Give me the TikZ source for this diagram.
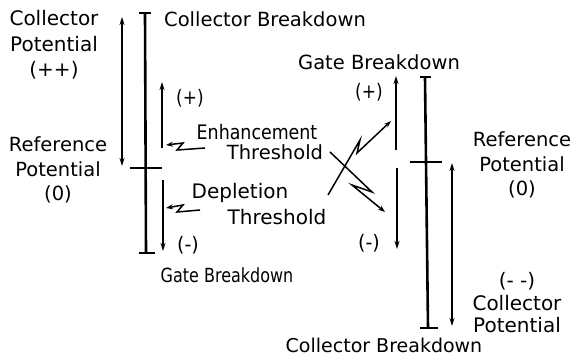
\documentclass[tikz,border=0pt]{standalone}
\usepackage{fontspec}
\setmainfont{DejaVu Sans}
\usetikzlibrary{arrows.meta}
\tikzset{
  lbl/.style 2 args={font=\fontsize{#1}{#2}\selectfont, inner sep=0pt, align=center},
  narrowlbl/.style 2 args={font=\fontsize{#1}{#1}\selectfont\addfontfeature{FakeStretch=#2}, inner sep=0pt, align=center},
  barline/.style={line width=2.6pt, line cap=butt},
  tickline/.style={line width=2.4pt, line cap=butt},
  ptr/.style={line width=1.5pt, -{Stealth[length=8pt,width=5pt]}},
  dblptr/.style={line width=1.5pt, {Stealth[length=8pt,width=5pt]}-{Stealth[length=8pt,width=5pt]}},
  zigptr/.style={line width=1.5pt, line join=miter, -{Stealth[length=7pt,width=5pt]}},
}
\begin{document}
\begin{tikzpicture}[x=1pt,y=-1pt]
\useasboundingbox (0,0) rectangle (576,362);

% ---------- left diagram ----------
\coordinate (LT) at (145,13);
\coordinate (LB) at (146,253);
\draw[barline] (LT) -- (LB);
\coordinate (LTa) at (139,13); \coordinate (LTb) at (151,13);
\draw[tickline] (LTa) -- (LTb);
\coordinate (LBa) at (139,253); \coordinate (LBb) at (155,253);
\draw[tickline] (LBa) -- (LBb);
\coordinate (LRa) at (130,168); \coordinate (LRb) at (162,168);
\draw[tickline] (LRa) -- (LRb);

\coordinate (LCa) at (122,166); \coordinate (LCb) at (122,17);
\draw[dblptr] (LCa) -- (LCb);
\coordinate (LPa) at (162,148); \coordinate (LPb) at (162,82);
\draw[ptr] (LPa) -- (LPb);
\coordinate (LMa) at (163,180); \coordinate (LMb) at (163,251);
\draw[ptr] (LMa) -- (LMb);

% labels left
\node[lbl={19.5}{24}] (topbrk) at (265,19) {Collector Breakdown};
\node[lbl={20}{25.5}] (lcoll) at (54,45) {Collector\\Potential\\(++)};
\node[lbl={19.5}{24.5}] (lref) at (58,170) {Reference\\Potential\\(0)};
\node[narrowlbl={20}{0.85}] (lplus) at (190,98) {(+)};
\node[narrowlbl={20}{0.95}] (lminus) at (188,245) {(-)};
\node[narrowlbl={20}{0.87}] (enh) at (257,132) {Enhancement};
\node[lbl={19.5}{20}] (enhth) at (275,152) {Threshold};
\node[lbl={20}{20}] (dep) at (240,193) {Depletion};
\node[lbl={20}{20}] (depth) at (277,217) {Threshold};
\node[narrowlbl={19.5}{0.82}] (lgate) at (227,275) {Gate Breakdown};

% left zigzags
\coordinate (EZs) at (205,148); \coordinate (EZe) at (166,145);
\draw[zigptr] (EZs) -- ++(-28,2) -- ++(6,-7) -- (EZe);
\coordinate (DZs) at (200,210); \coordinate (DZe) at (166,208);
\draw[zigptr] (DZs) -- ++(-23,2) -- ++(6,-7) -- (DZe);

% ---------- middle crossing zigzags ----------
\coordinate (ZAs) at (328,195); \coordinate (ZAe) at (391,121);
\draw[zigptr] (ZAs) -- ++(32,-55) -- ++(-3,13) -- (ZAe);
\coordinate (ZBs) at (330,152); \coordinate (ZBe) at (385,212);
\draw[zigptr] (ZBs) -- ++(42,40) -- ++(-20,-7) -- (ZBe);

% ---------- right diagram ----------
\coordinate (RT) at (425,77);
\coordinate (RB) at (428,328);
\draw[barline] (RT) -- (RB);
\coordinate (RTa) at (420,77); \coordinate (RTb) at (431,77);
\draw[tickline] (RTa) -- (RTb);
\coordinate (RBa) at (420,328); \coordinate (RBb) at (438,328);
\draw[tickline] (RBa) -- (RBb);
\coordinate (RRa) at (410,162); \coordinate (RRb) at (442,162);
\draw[tickline] (RRa) -- (RRb);

\coordinate (RPa) at (396,150); \coordinate (RPb) at (396,76);
\draw[ptr] (RPa) -- (RPb);
\coordinate (RMa) at (397,168); \coordinate (RMb) at (397,249);
\draw[ptr] (RMa) -- (RMb);
\coordinate (RCa) at (452,163); \coordinate (RCb) at (452,326);
\draw[dblptr] (RCa) -- (RCb);

% labels right
\node[lbl={19.5}{20}] (rgate) at (379,62) {Gate Breakdown};
\node[narrowlbl={20}{0.85}] (rplus) at (369,92) {(+)};
\node[narrowlbl={20}{0.95}] (rminus) at (369,243) {(-)};
\node[lbl={19.5}{24.5}] (rref) at (522,165) {Reference\\Potential\\(0)};
\node[lbl={20}{22.5}] (rcoll) at (517,303) {(- -)\\Collector\\Potential};
\node[lbl={19}{20}] (botbrk) at (384,345) {Collector Breakdown};
\end{tikzpicture}
\end{document}
